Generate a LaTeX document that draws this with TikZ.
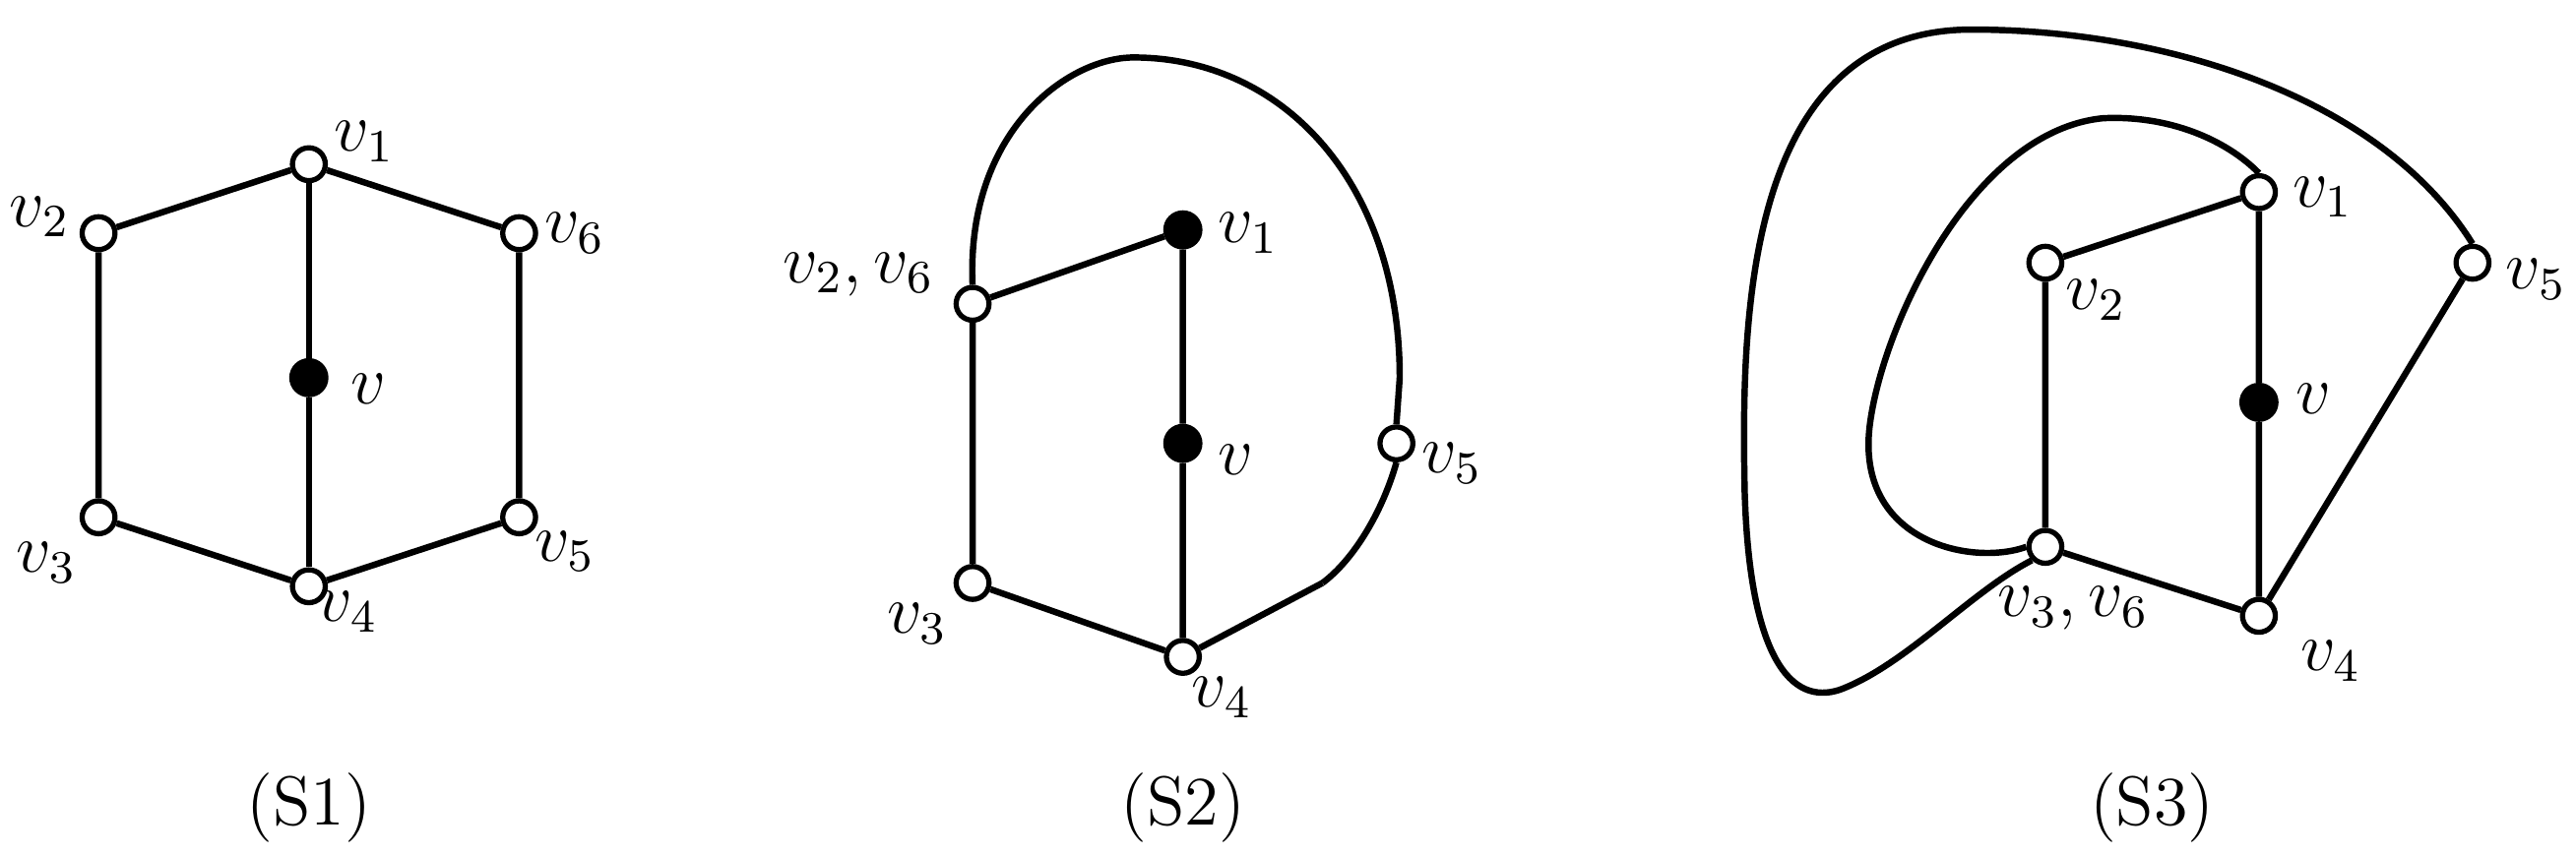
\documentclass[tikz,border=0pt]{standalone}
\begin{document}
\begin{tikzpicture}[x=0.01cm,y=-0.01cm,line width=1.1pt,
  wv/.style={circle,draw,fill=white,inner sep=0pt,minimum size=0.2cm,line width=0.9pt},
  bv/.style={circle,draw,fill=black,inner sep=0pt,minimum size=0.2cm},
  lab/.style={font=\large,inner sep=1pt}]
\useasboundingbox (0,0) rectangle (1568,521);
% S1
\node[wv] (a1) at (188,100) {};
\node[wv] (a2) at (60,142) {};
\node[wv] (a6) at (316,142) {};
\node[bv] (a) at (188,230) {};
\node[wv] (a3) at (60,315) {};
\node[wv] (a5) at (316,315) {};
\node[wv] (a4) at (188,357) {};
\draw (a2)--(a1)--(a6)--(a5)--(a4)--(a3)--(a2);
\draw (a1)--(a)--(a4);
\node[lab,anchor=south west] at (198,104) {$v_1$};
\node[lab,anchor=east] at (48,132) {$v_2$};
\node[lab,anchor=west] at (326,142) {$v_6$};
\node[lab,anchor=west] at (208,237) {$v$};
\node[lab,anchor=north east] at (52,325) {$v_3$};
\node[lab,anchor=north west] at (320,318) {$v_5$};
\node[lab,anchor=north west] at (188,355) {$v_4$};
\node[lab] (s1) at (188,492) {(S1)};
% S2
\node[bv] (b1) at (720,140) {};
\node[wv] (b2) at (592,185) {};
\node[bv] (b) at (720,270) {};
\node[wv] (b5) at (850,270) {};
\node[wv] (b3) at (592,355) {};
\node[wv] (b4) at (720,400) {};
\coordinate (bc) at (805,355);
\draw (b2)--(b1)--(b)--(b4);
\draw (b2)--(b3)--(b4)--(bc);
\draw (b2.north) .. controls (588,80) and (650,35) .. (690,35)
  .. controls (780,35) and (852,110) .. (852,230) -- (b5.north);
\draw (b5.south) .. controls (842,310) and (825,340) .. (bc);
\node[lab,anchor=west] at (736,142) {$v_1$};
\node[lab,anchor=east] at (574,167) {$v_2,v_6$};
\node[lab,anchor=west] at (736,280) {$v$};
\node[lab,anchor=west] at (860,282) {$v_5$};
\node[lab,anchor=north east] at (582,362) {$v_3$};
\node[lab,anchor=north west] at (720,407) {$v_4$};
\node[lab] (s2) at (720,492) {(S2)};
% S3
\node[wv] (c1) at (1375,117) {};
\node[wv] (c2) at (1245,160) {};
\node[bv] (c) at (1375,245) {};
\node[wv] (c5) at (1505,160) {};
\node[wv] (c3) at (1245,333) {};
\node[wv] (c4) at (1375,375) {};
\draw (c2)--(c1)--(c)--(c4)--(c5);
\draw (c2)--(c3)--(c4);
\draw (c1.north) .. controls (1355,85) and (1320,70) .. (1280,72)
  .. controls (1200,80) and (1145,200) .. (1138,260)
  .. controls (1130,330) and (1200,345) .. (c3.west);
\draw (c5.north) .. controls (1450,60) and (1320,18) .. (1200,18)
  .. controls (1060,18) and (1060,200) .. (1062,300)
  .. controls (1065,400) and (1090,430) .. (1120,420)
  .. controls (1160,405) and (1200,360) .. (c3.south west);
\node[lab,anchor=west] at (1390,120) {$v_1$};
\node[lab,anchor=north west] at (1252,165) {$v_2$};
\node[lab,anchor=west] at (1392,243) {$v$};
\node[lab,anchor=west] at (1520,170) {$v_5$};
\node[lab,anchor=north] at (1262,352) {$v_3,v_6$};
\node[lab,anchor=north west] at (1395,385) {$v_4$};
\node[lab] (s3) at (1310,492) {(S3)};
\end{tikzpicture}
\end{document}
